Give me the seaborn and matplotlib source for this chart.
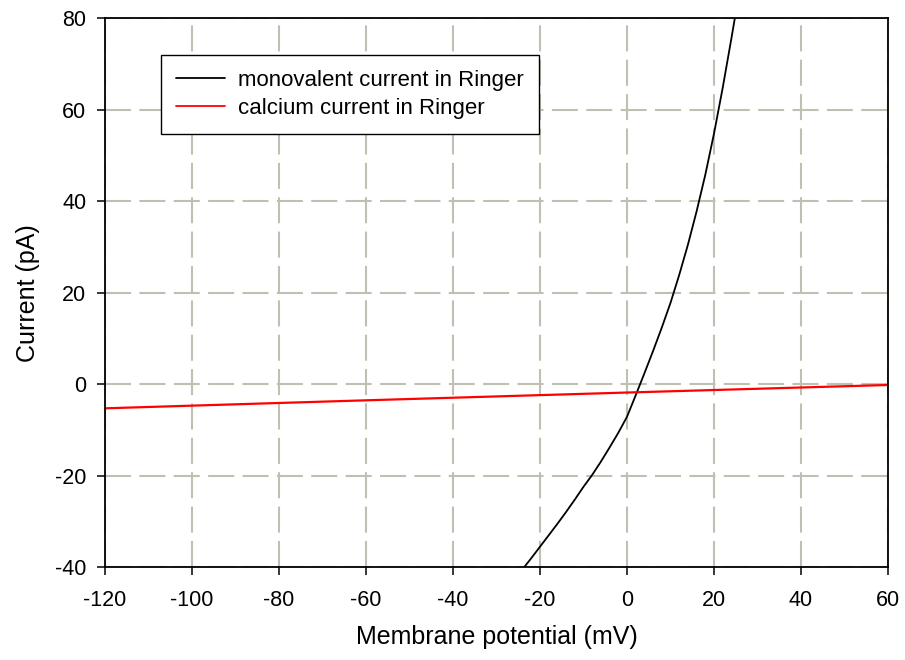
import matplotlib
matplotlib.use("Agg")
import matplotlib.pyplot as plt
import seaborn as sns
import pandas as pd
import numpy as np

# Data
mono_v = [-24, -22, -20, -18, -16, -14, -12, -10, -8, -6, -4, -2, 0, 2, 3, 4, 6, 8, 10,
          12, 14, 16, 18, 20, 22, 24, 25]
mono_i = [-40.4, -38.0, -35.5, -33.0, -30.5, -27.9, -25.2, -22.4, -19.8, -16.9, -13.8,
          -10.6, -7.1, -2.4, 0.0, 2.4, 7.3, 12.4, 17.8, 23.9, 30.5, 37.8, 45.8, 54.8,
          64.8, 75.6, 81.2]

ca_v = [-120, -60, 0, 60]
ca_i = [-5.25, -3.5, -1.8, -0.15]

series_names = ["monovalent current in Ringer", "calcium current in Ringer"]
colors = {"monovalent current in Ringer": "#000000", "calcium current in Ringer": "#FF0000"}

x_ticks = [-120, -100, -80, -60, -40, -20, 0, 20, 40, 60]
y_ticks = [-40, -20, 0, 20, 40, 60, 80]

df = pd.concat([
    pd.DataFrame({"V": mono_v, "I": mono_i, "series": series_names[0]}),
    pd.DataFrame({"V": ca_v, "I": ca_i, "series": series_names[1]}),
], ignore_index=True)

sns.set_style("white")
plt.rcParams["font.family"] = ["Liberation Sans", "DejaVu Sans"]
plt.rcParams["text.color"] = "black"

fig = plt.figure(figsize=(9.05, 6.6), dpi=100)
ax = fig.add_axes([105 / 905, 1 - 567.3 / 660, (888 - 105) / 905, (567.3 - 18.3) / 660])

sns.lineplot(data=df, x="V", y="I", hue="series", hue_order=series_names,
             palette=colors, sort=False, estimator=None, ax=ax, linewidth=1.3)
ax.get_lines()[1].set_linewidth(1.6)

ax.set_xlim(-120, 60)
ax.set_ylim(-40, 80)
ax.set_xticks(x_ticks)
ax.set_yticks(y_ticks)
ax.set_xticklabels([str(t) for t in x_ticks])
ax.set_yticklabels([str(t) for t in y_ticks])

ax.grid(True, color="#C0C0B2", linewidth=1.5, linestyle=(0, (12.5, 4)))
ax.set_axisbelow(True)

for s in ax.spines.values():
    s.set_visible(True)
    s.set_color("black")
    s.set_linewidth(1.3)

ax.tick_params(axis="both", direction="out", length=5.5, width=1.1, color="black",
               labelsize=15.5, labelcolor="black", bottom=True, left=True)
ax.tick_params(axis="x", pad=11)
ax.tick_params(axis="y", pad=8)

ax.set_xlabel("Membrane potential (mV)", fontsize=18, color="black", labelpad=10)
ax.set_ylabel("Current (pA)", fontsize=18, color="black", labelpad=11)

leg = ax.legend(loc="upper left", bbox_to_anchor=(0.071, 0.933), borderaxespad=0,
                fancybox=False, frameon=True, edgecolor="black", framealpha=1,
                fontsize=16, handlelength=2.2, handletextpad=0.6, labelspacing=0.3,
                borderpad=0.68, title=None)
leg.get_frame().set_linewidth(1.0)
for h in leg.get_lines():
    h.set_linewidth(1.3)
for t in leg.get_texts():
    t.set_color("black")

fig.savefig("out.png", dpi=100)
